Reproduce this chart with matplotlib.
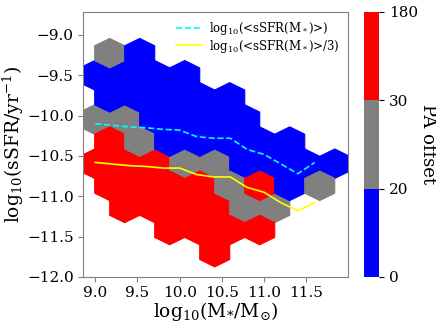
import matplotlib
matplotlib.use("Agg")
import matplotlib.pyplot as plt
import numpy as np
from matplotlib.colors import ListedColormap, BoundaryNorm

plt.rcParams['font.family'] = 'serif'
plt.rcParams['font.serif'] = ['DejaVu Serif']
plt.rcParams['mathtext.fontset'] = 'dejavuserif'

# hexagon centres (stellar mass, sSFR) and the PA offset (deg) of each cell
mass = [9.17, 9.53,
        8.99, 9.35, 9.70, 10.06,
        9.17, 9.53, 9.88, 10.24, 10.59,
        8.99, 9.35, 9.70, 10.06, 10.41, 10.77,
        9.17, 9.53, 9.88, 10.24, 10.59, 10.95, 11.30,
        8.99, 9.35, 9.70, 10.06, 10.41, 10.77, 11.13, 11.48, 11.84,
        9.17, 9.53, 9.88, 10.24, 10.59, 10.95, 11.30, 11.66,
        9.35, 9.70, 10.06, 10.41, 10.77, 11.13,
        9.88, 10.24, 10.59, 10.95,
        10.41]
ssfr = [-9.23] * 2 + [-9.50] * 4 + [-9.77] * 5 + [-10.05] * 6 + [-10.32] * 7 \
    + [-10.60] * 9 + [-10.87] * 8 + [-11.14] * 6 + [-11.42] * 4 + [-11.69] * 1
pa_offset = [25, 10,
             10, 10, 10, 10,
             10, 10, 10, 10, 10,
             25, 25, 10, 10, 10, 10,
             60, 25, 10, 10, 10, 10, 10,
             60, 60, 60, 25, 25, 10, 10, 10, 10,
             60, 60, 60, 60, 25, 60, 10, 25,
             60, 60, 60, 60, 25, 25,
             60, 60, 60, 60,
             60]

# running mean sSFR with mass
line_mass = [9.0, 9.2, 9.4, 9.6, 9.8, 10.0, 10.2, 10.4, 10.6, 10.8, 11.0, 11.2, 11.4, 11.6]
mean_ssfr = [-10.10, -10.12, -10.14, -10.15, -10.17, -10.18, -10.26, -10.28,
             -10.28, -10.42, -10.48, -10.60, -10.72, -10.58]
third_ssfr = [-10.58, -10.60, -10.62, -10.63, -10.65, -10.65, -10.73, -10.76,
              -10.76, -10.89, -10.95, -11.08, -11.18, -11.08]

pa_bounds = [0, 20, 30, 180]
cmap = ListedColormap(['blue', 'gray', 'red'])
norm = BoundaryNorm(pa_bounds, cmap.N)

fig = plt.figure(figsize=(4.36, 3.24), dpi=100)
ax = fig.add_axes([0.1897, 0.1451, 0.6085, 0.8188])
cax = fig.add_axes([0.8356, 0.1451, 0.0337, 0.8188])

hb = ax.hexbin(mass, ssfr, C=pa_offset, gridsize=(8, 5),
               extent=(8.993, 11.837, -11.692, -8.952),
               reduce_C_function=np.mean, cmap=cmap, norm=norm,
               linewidths=0.8, edgecolors='face')

ax.plot(line_mass, mean_ssfr, '--', color='cyan', lw=1.2,
        label='log$_{10}$(<sSFR(M$_*$)>)')
ax.plot(line_mass, third_ssfr, '-', color='yellow', lw=1.2,
        label='log$_{10}$(<sSFR(M$_*$)>/3)')

ax.set_xlim(8.851, 11.994)
ax.set_ylim(-12.0, -8.712)
ax.set_xticks([9.0, 9.5, 10.0, 10.5, 11.0, 11.5])
ax.set_yticks([-9.0, -9.5, -10.0, -10.5, -11.0, -11.5, -12.0])
ax.tick_params(labelsize=11, pad=3, color='0.5')
for sp in ax.spines.values():
    sp.set_color('0.5')
ax.set_xlabel(r'$\mathrm{log_{10}(M_{*}/M_{\odot})}$', fontsize=13.5, labelpad=0)
ax.set_ylabel(r'$\mathrm{log_{10}(sSFR/yr^{-1})}$', fontsize=13.5, labelpad=1)
ax.legend(loc='upper right', frameon=False, fontsize=8.5, handlelength=2.2,
          handletextpad=0.6, borderaxespad=0.3, labelspacing=0.05)

cb = fig.colorbar(hb, cax=cax, ticks=pa_bounds)
cb.ax.tick_params(labelsize=11)
cb.set_label('PA offset', rotation=270, fontsize=13, labelpad=14)
cb.outline.set_visible(False)

fig.savefig('out.png', dpi=100)
